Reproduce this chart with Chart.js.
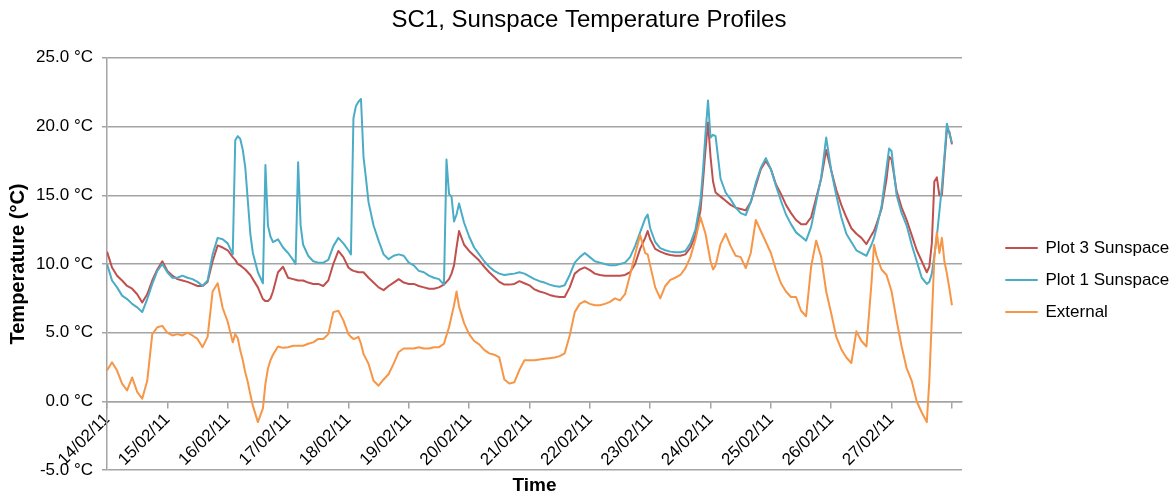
<!DOCTYPE html>
<html>
<head>
<meta charset="utf-8">
<title>SC1, Sunspace Temperature Profiles</title>
<script src="https://cdn.jsdelivr.net/npm/chart.js@4.4.1/dist/chart.umd.min.js"></script>
<style>
  html, body { margin: 0; padding: 0; background: #fff; }
  #wrap { width: 1174px; height: 497px; }
</style>
</head>
<body>
<div id="wrap"><canvas id="tempChart"></canvas></div>
<script>
// Tick labels for the date axis (one per day, midnight)
const dayLabels = ['14/02/11', '15/02/11', '16/02/11', '17/02/11', '18/02/11', '19/02/11', '20/02/11',
                   '21/02/11', '22/02/11', '23/02/11', '24/02/11', '25/02/11', '26/02/11', '27/02/11'];

// Hours since 14/02/11 00:00 (one row per day)
const hours = [
  0, 2, 4, 6, 8, 10, 12, 14, 16, 18, 20, 22,
  24, 26, 28, 30, 32, 34, 36, 38, 40, 42, 44, 46,
  48, 50, 51, 52, 53, 54, 55, 56, 57, 58, 60, 62, 63, 64, 65, 66, 68, 70,
  72, 74, 75, 76, 77, 78, 80, 82, 84, 86, 88, 90, 92, 94,
  96, 97, 98, 99, 100, 101, 102, 103, 104, 106, 108, 110, 112, 114, 116, 118,
  120, 122, 124, 126, 128, 130, 132, 134, 135, 136, 137, 138, 139, 140, 142,
  144, 146, 148, 150, 152, 154, 156, 158, 160, 162, 164, 166,
  168, 170, 172, 174, 176, 178, 180, 182, 184, 186, 188, 190,
  192, 194, 196, 198, 200, 202, 204, 206, 208, 210, 212, 214, 215,
  216, 218, 220, 222, 224, 226, 228, 230, 232, 234, 236, 237, 238, 239,
  240, 241, 242, 244, 246, 248, 250, 252, 254, 256, 258, 260, 262,
  264, 266, 268, 270, 272, 274, 276, 278, 280, 282, 284, 286,
  288, 290, 292, 294, 296, 298, 300, 302, 304, 305, 306, 308, 310, 311,
  312, 314, 316, 318, 320, 322, 324, 326, 327, 328, 329, 330, 331, 332, 333, 334, 335, 336
];

const plot3Temps = [
  10.9, 9.75, 9.15, 8.8, 8.4, 8.2, 7.8, 7.2, 7.8, 8.8, 9.6, 10.2,
  9.5, 9.15, 8.9, 8.8, 8.7, 8.55, 8.4, 8.4, 8.7, 10.2, 11.35, 11.2,
  11.0, 10.5, 10.3, 10.0, 9.9, 9.75, 9.6, 9.4, 9.2, 8.9, 8.3, 7.45, 7.3, 7.3, 7.5, 8.0, 9.4, 9.8,
  9.0, 8.9, 8.85, 8.8, 8.8, 8.8, 8.65, 8.55, 8.55, 8.4, 8.8, 10.0, 10.95, 10.5,
  9.75, 9.6, 9.5, 9.45, 9.4, 9.4, 9.4, 9.2, 9.0, 8.65, 8.3, 8.1, 8.4, 8.65, 8.9, 8.65,
  8.55, 8.55, 8.4, 8.3, 8.2, 8.2, 8.3, 8.5, 8.7, 8.9, 9.3, 9.9, 11.2, 12.4, 11.4,
  10.95, 10.6, 10.25, 9.8, 9.4, 9.05, 8.7, 8.5, 8.5, 8.55, 8.75, 8.6,
  8.45, 8.15, 8.0, 7.9, 7.75, 7.65, 7.6, 7.6, 8.3, 9.3, 9.6, 9.75,
  9.55, 9.3, 9.2, 9.15, 9.15, 9.15, 9.15, 9.2, 9.4, 10.0, 11.1, 11.9, 12.4,
  11.8, 11.1, 10.9, 10.75, 10.65, 10.6, 10.6, 10.7, 11.2, 12.1, 13.9, 16.0, 18.3, 20.3,
  17.8, 16.0, 15.2, 14.9, 14.6, 14.3, 14.1, 14.0, 13.9, 14.5, 15.7, 16.9, 17.5,
  16.9, 15.8, 15.1, 14.3, 13.7, 13.2, 12.9, 12.9, 13.4, 14.8, 16.2, 18.3,
  16.8, 15.4, 14.3, 13.4, 12.6, 12.2, 11.9, 11.45, 12.1, 12.4, 12.9, 14.0, 16.2, 17.8,
  17.6, 15.3, 14.1, 13.2, 12.1, 11.0, 10.2, 9.4, 9.8, 11.5, 16.0, 16.3, 15.0, 15.0, 17.5, 19.8, 19.6, 18.7
];

const plot1Temps = [
  10.0, 8.8, 8.3, 7.7, 7.45, 7.1, 6.85, 6.5, 7.45, 8.55, 9.5, 10.0,
  9.4, 9.0, 9.0, 9.15, 9.0, 8.9, 8.7, 8.4, 8.8, 10.7, 11.9, 11.8,
  11.5, 10.7, 19.0, 19.3, 19.1, 18.3, 17.0, 14.6, 12.2, 10.8, 9.4, 8.6, 17.2, 12.8, 12.0, 11.6, 11.8, 11.2,
  10.8, 10.3, 10.0, 17.4, 12.8, 11.4, 10.6, 10.2, 10.1, 10.1, 10.3, 11.3, 11.9, 11.5,
  11.0, 10.7, 20.6, 21.5, 21.8, 22.0, 17.8, 16.2, 14.5, 12.8, 11.7, 10.7, 10.35, 10.6, 10.7, 10.6,
  10.1, 9.9, 9.5, 9.4, 9.15, 9.0, 8.9, 8.5, 17.6, 15.1, 14.9, 13.1, 13.6, 14.4, 13.0,
  12.0, 11.2, 10.7, 10.2, 9.8, 9.5, 9.3, 9.2, 9.25, 9.3, 9.4, 9.3,
  9.1, 8.9, 8.75, 8.65, 8.5, 8.4, 8.35, 8.45, 9.2, 10.1, 10.5, 10.8,
  10.5, 10.2, 10.1, 10.0, 9.9, 9.9, 10.0, 10.1, 10.5, 11.3, 12.3, 13.3, 13.6,
  12.6, 11.6, 11.15, 11.0, 10.9, 10.85, 10.85, 10.95, 11.5, 12.5, 14.6, 16.8, 19.5, 21.9,
  19.2, 19.4, 19.3, 16.2, 15.2, 14.7, 14.1, 13.7, 13.55, 14.5, 15.9, 17.0, 17.7,
  16.9, 15.7, 14.6, 13.6, 12.9, 12.3, 12.0, 11.7, 12.7, 14.5, 16.3, 19.2,
  16.8, 15.0, 13.4, 12.2, 11.6, 11.0, 10.8, 10.6, 11.4, 11.9, 12.6, 14.2, 17.0, 18.4,
  18.2, 15.0, 13.7, 12.8, 11.4, 10.2, 9.0, 8.55, 8.7, 9.3, 10.6, 12.0, 13.8, 15.6, 17.8, 20.2, 19.5, 18.8
];

const externalTemps = [
  2.25, 2.85, 2.25, 1.3, 0.8, 1.75, 0.7, 0.2, 1.5, 4.9, 5.4, 5.5,
  5.0, 4.8, 4.9, 4.8, 5.0, 4.8, 4.55, 3.95, 4.7, 8.0, 8.6, 6.8,
  5.8, 4.3, 4.9, 4.6, 3.7, 3.0, 2.1, 1.4, 0.5, -0.3, -1.5, -0.5, 1.3, 2.4, 3.0, 3.4, 4.0, 3.9,
  3.95, 4.05, 4.05, 4.05, 4.05, 4.05, 4.2, 4.3, 4.55, 4.55, 4.9, 6.5, 6.6, 5.9,
  4.9, 4.7, 4.55, 4.6, 4.7, 4.2, 3.45, 3.1, 2.75, 1.5, 1.15, 1.6, 2.0, 2.75, 3.6, 3.85,
  3.85, 3.85, 3.95, 3.85, 3.85, 3.95, 3.95, 4.2, 4.8, 5.4, 6.2, 7.0, 8.0, 6.9, 5.7,
  4.9, 4.4, 4.15, 3.75, 3.5, 3.4, 3.2, 1.6, 1.3, 1.4, 2.3, 3.0,
  3.0, 3.0, 3.05, 3.1, 3.15, 3.2, 3.3, 3.5, 4.8, 6.5, 7.1, 7.3,
  7.1, 7.0, 7.0, 7.1, 7.25, 7.5, 7.35, 7.8, 9.2, 10.7, 12.1, 10.8, 10.7,
  9.9, 8.3, 7.5, 8.4, 8.85, 9.0, 9.2, 9.7, 10.5, 11.8, 13.4, 12.8, 12.2, 11.2,
  10.2, 9.6, 9.9, 11.45, 12.2, 11.3, 10.6, 10.5, 9.7, 10.8, 13.2, 12.4, 11.6,
  10.8, 9.6, 8.6, 8.0, 7.6, 7.6, 6.6, 6.2, 9.8, 11.7, 10.5, 8.0,
  6.4, 4.7, 3.8, 3.2, 2.8, 5.1, 4.4, 4.0, 8.6, 11.4, 10.6, 9.6, 9.2, 8.6,
  8.0, 5.9, 4.0, 2.4, 1.5, 0.0, -0.8, -1.5, 1.5, 6.0, 10.5, 12.3, 10.8, 11.9, 10.2, 9.3, 8.2, 7.0
];

const seriesNames = ['Plot 3 Sunspace', 'Plot 1 Sunspace', 'External'];
const seriesColors = ['#c0504d', '#4bacc6', '#f79646'];

/**
 * Pair the shared time axis with one series of temperatures
 */
function toPoints(values) {
    return values.map((v, i) => ({ x: hours[i], y: v }));
}

Chart.defaults.font.family = "'Liberation Sans', Arial, sans-serif";
Chart.defaults.color = '#000';

const gridGrey = '#a4a4a4';

const ctx = document.getElementById('tempChart');
new Chart(ctx, {
    type: 'line',
    data: {
        datasets: [plot3Temps, plot1Temps, externalTemps].map((vals, i) => ({
            label: seriesNames[i],
            data: toPoints(vals),
            borderColor: seriesColors[i],
            backgroundColor: seriesColors[i],
            borderWidth: 2,
            borderJoinStyle: 'round',
            pointRadius: 0,
            tension: 0,
            order: 3 - i   // blue over red, orange on top
        }))
    },
    options: {
        responsive: true,
        maintainAspectRatio: false,
        animation: false,
        layout: { padding: { left: 4, right: 0, top: 0, bottom: 0 } },
        plugins: {
            title: {
                display: true,
                text: 'SC1, Sunspace Temperature Profiles',
                font: { size: 24, weight: 'normal' },
                padding: { top: 6, bottom: 23 }
            },
            subtitle: {
                display: true,
                position: 'bottom',
                fullSize: false,
                text: 'Time',
                font: { size: 19, weight: 'bold' },
                padding: { top: 4, bottom: 0 }
            },
            legend: {
                position: 'right',
                fullSize: false,
                maxWidth: 183,
                title: { display: true, text: '', font: { size: 20 }, padding: { top: 8, bottom: 0 } },
                labels: {
                    boxWidth: 31,
                    boxHeight: 0,
                    padding: 15,
                    font: { size: 17 },
                    sort: (a, b) => a.datasetIndex - b.datasetIndex,
                    generateLabels(chart) {
                        const items = Chart.defaults.plugins.legend.labels.generateLabels(chart);
                        items.forEach(item => { item.lineWidth = 2; });
                        return items;
                    }
                }
            },
            tooltip: { enabled: false }
        },
        scales: {
            x: {
                type: 'linear',
                min: 0,
                max: 340,
                position: { y: 0 },
                ticks: {
                    stepSize: 24,
                    includeBounds: false,
                    autoSkip: false,
                    minRotation: 45,
                    maxRotation: 45,
                    padding: 2,
                    font: { size: 17 },
                    callback: (value) => dayLabels[value / 24] ?? ''
                },
                grid: { drawOnChartArea: false, drawTicks: true, tickLength: 6, color: gridGrey, lineWidth: 1.5 },
                border: { color: gridGrey, width: 1.5 }
            },
            y: {
                min: -5,
                max: 25,
                afterFit(scale) { scale.width = 103; },
                ticks: {
                    stepSize: 5,
                    padding: 9,
                    font: { size: 17 },
                    callback: (value) => value.toFixed(1) + ' °C'
                },
                grid: { color: gridGrey, lineWidth: 1.5, tickLength: 5 },
                border: { color: gridGrey, width: 1.5 },
                title: {
                    display: true,
                    text: 'Temperature (°C)',
                    font: { size: 20, weight: 'bold' },
                    padding: { top: 2, bottom: 0 }
                }
            },
            // empty right-hand axis, only keeps a gap between plot and legend
            gap: {
                position: 'right',
                afterFit(scale) { scale.width = 29; },
                ticks: { display: false },
                grid: { display: false },
                border: { display: false }
            }
        }
    }
});
</script>
</body>
</html>
